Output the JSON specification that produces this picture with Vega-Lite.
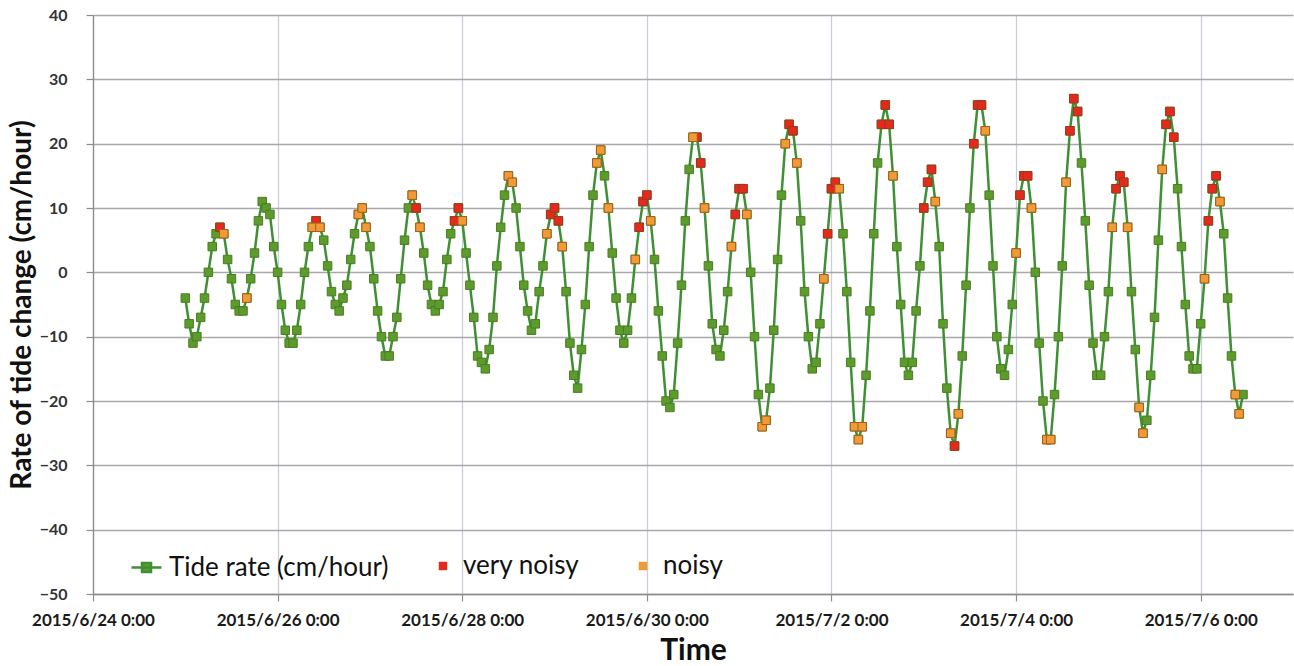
{
  "$schema": "https://vega.github.io/schema/vega-lite/v6.json",
  "width": 1200,
  "height": 579,
  "autosize": {"type": "none"},
  "padding": {"left": 93, "top": 15, "right": 1, "bottom": 72},
  "background": "white",
  "config": {"view": {"stroke": null}, "font": "Lato"},
  "data": {"values": [
    {"t":"2015-06-25T00:00","v":-4},{"t":"2015-06-25T01:00","v":-8},{"t":"2015-06-25T02:00","v":-11},{"t":"2015-06-25T03:00","v":-10},
    {"t":"2015-06-25T04:00","v":-7},{"t":"2015-06-25T05:00","v":-4},{"t":"2015-06-25T06:00","v":0},{"t":"2015-06-25T07:00","v":4},
    {"t":"2015-06-25T08:00","v":6},{"t":"2015-06-25T09:00","v":7,"s":"very noisy"},{"t":"2015-06-25T10:00","v":6,"s":"noisy"},{"t":"2015-06-25T11:00","v":2},
    {"t":"2015-06-25T12:00","v":-1},{"t":"2015-06-25T13:00","v":-5},{"t":"2015-06-25T14:00","v":-6},{"t":"2015-06-25T15:00","v":-6},
    {"t":"2015-06-25T16:00","v":-4,"s":"noisy"},{"t":"2015-06-25T17:00","v":-1},{"t":"2015-06-25T18:00","v":3},{"t":"2015-06-25T19:00","v":8},
    {"t":"2015-06-25T20:00","v":11},{"t":"2015-06-25T21:00","v":10},{"t":"2015-06-25T22:00","v":9},{"t":"2015-06-25T23:00","v":4},

    {"t":"2015-06-26T00:00","v":0},{"t":"2015-06-26T01:00","v":-5},{"t":"2015-06-26T02:00","v":-9},{"t":"2015-06-26T03:00","v":-11},
    {"t":"2015-06-26T04:00","v":-11},{"t":"2015-06-26T05:00","v":-9},{"t":"2015-06-26T06:00","v":-5},{"t":"2015-06-26T07:00","v":0},
    {"t":"2015-06-26T08:00","v":4},{"t":"2015-06-26T09:00","v":7,"s":"noisy"},{"t":"2015-06-26T10:00","v":8,"s":"very noisy"},{"t":"2015-06-26T11:00","v":7,"s":"noisy"},
    {"t":"2015-06-26T12:00","v":5},{"t":"2015-06-26T13:00","v":1},{"t":"2015-06-26T14:00","v":-3},{"t":"2015-06-26T15:00","v":-5},
    {"t":"2015-06-26T16:00","v":-6},{"t":"2015-06-26T17:00","v":-4},{"t":"2015-06-26T18:00","v":-2},{"t":"2015-06-26T19:00","v":2},
    {"t":"2015-06-26T20:00","v":6},{"t":"2015-06-26T21:00","v":9,"s":"noisy"},{"t":"2015-06-26T22:00","v":10,"s":"noisy"},{"t":"2015-06-26T23:00","v":7,"s":"noisy"},

    {"t":"2015-06-27T00:00","v":4},{"t":"2015-06-27T01:00","v":-1},{"t":"2015-06-27T02:00","v":-6},{"t":"2015-06-27T03:00","v":-10},
    {"t":"2015-06-27T04:00","v":-13},{"t":"2015-06-27T05:00","v":-13},{"t":"2015-06-27T06:00","v":-10},{"t":"2015-06-27T07:00","v":-7},
    {"t":"2015-06-27T08:00","v":-1},{"t":"2015-06-27T09:00","v":5},{"t":"2015-06-27T10:00","v":10},{"t":"2015-06-27T11:00","v":12,"s":"noisy"},
    {"t":"2015-06-27T12:00","v":10,"s":"very noisy"},{"t":"2015-06-27T13:00","v":7,"s":"noisy"},{"t":"2015-06-27T14:00","v":3},{"t":"2015-06-27T15:00","v":-2},
    {"t":"2015-06-27T16:00","v":-5},{"t":"2015-06-27T17:00","v":-6},{"t":"2015-06-27T18:00","v":-5},{"t":"2015-06-27T19:00","v":-3},
    {"t":"2015-06-27T20:00","v":2},{"t":"2015-06-27T21:00","v":6},{"t":"2015-06-27T22:00","v":8,"s":"very noisy"},{"t":"2015-06-27T23:00","v":10,"s":"very noisy"},

    {"t":"2015-06-28T00:00","v":8,"s":"noisy"},{"t":"2015-06-28T01:00","v":3},{"t":"2015-06-28T02:00","v":-2},{"t":"2015-06-28T03:00","v":-7},
    {"t":"2015-06-28T04:00","v":-13},{"t":"2015-06-28T05:00","v":-14},{"t":"2015-06-28T06:00","v":-15},{"t":"2015-06-28T07:00","v":-12},
    {"t":"2015-06-28T08:00","v":-7},{"t":"2015-06-28T09:00","v":1},{"t":"2015-06-28T10:00","v":7},{"t":"2015-06-28T11:00","v":12},
    {"t":"2015-06-28T12:00","v":15,"s":"noisy"},{"t":"2015-06-28T13:00","v":14,"s":"noisy"},{"t":"2015-06-28T14:00","v":10},{"t":"2015-06-28T15:00","v":4},
    {"t":"2015-06-28T16:00","v":-2},{"t":"2015-06-28T17:00","v":-6},{"t":"2015-06-28T18:00","v":-9},{"t":"2015-06-28T19:00","v":-8},
    {"t":"2015-06-28T20:00","v":-3},{"t":"2015-06-28T21:00","v":1},{"t":"2015-06-28T22:00","v":6,"s":"noisy"},{"t":"2015-06-28T23:00","v":9,"s":"very noisy"},

    {"t":"2015-06-29T00:00","v":10,"s":"very noisy"},{"t":"2015-06-29T01:00","v":8,"s":"very noisy"},{"t":"2015-06-29T02:00","v":4,"s":"noisy"},{"t":"2015-06-29T03:00","v":-3},
    {"t":"2015-06-29T04:00","v":-11},{"t":"2015-06-29T05:00","v":-16},{"t":"2015-06-29T06:00","v":-18},{"t":"2015-06-29T07:00","v":-12},
    {"t":"2015-06-29T08:00","v":-5},{"t":"2015-06-29T09:00","v":4},{"t":"2015-06-29T10:00","v":12},{"t":"2015-06-29T11:00","v":17,"s":"noisy"},
    {"t":"2015-06-29T12:00","v":19,"s":"noisy"},{"t":"2015-06-29T13:00","v":15},{"t":"2015-06-29T14:00","v":10,"s":"noisy"},{"t":"2015-06-29T15:00","v":3},
    {"t":"2015-06-29T16:00","v":-4},{"t":"2015-06-29T17:00","v":-9},{"t":"2015-06-29T18:00","v":-11},{"t":"2015-06-29T19:00","v":-9},
    {"t":"2015-06-29T20:00","v":-4},{"t":"2015-06-29T21:00","v":2,"s":"noisy"},{"t":"2015-06-29T22:00","v":7,"s":"very noisy"},{"t":"2015-06-29T23:00","v":11,"s":"very noisy"},

    {"t":"2015-06-30T00:00","v":12,"s":"very noisy"},{"t":"2015-06-30T01:00","v":8,"s":"noisy"},{"t":"2015-06-30T02:00","v":2},{"t":"2015-06-30T03:00","v":-6},
    {"t":"2015-06-30T04:00","v":-13},{"t":"2015-06-30T05:00","v":-20},{"t":"2015-06-30T06:00","v":-21},{"t":"2015-06-30T07:00","v":-19},
    {"t":"2015-06-30T08:00","v":-11},{"t":"2015-06-30T09:00","v":-2},{"t":"2015-06-30T10:00","v":8},{"t":"2015-06-30T11:00","v":16},
    {"t":"2015-06-30T12:00","v":21,"s":"noisy"},{"t":"2015-06-30T13:00","v":21,"s":"very noisy"},{"t":"2015-06-30T14:00","v":17,"s":"very noisy"},{"t":"2015-06-30T15:00","v":10,"s":"noisy"},
    {"t":"2015-06-30T16:00","v":1},{"t":"2015-06-30T17:00","v":-8},{"t":"2015-06-30T18:00","v":-12},{"t":"2015-06-30T19:00","v":-13},
    {"t":"2015-06-30T20:00","v":-9},{"t":"2015-06-30T21:00","v":-3},{"t":"2015-06-30T22:00","v":4,"s":"noisy"},{"t":"2015-06-30T23:00","v":9,"s":"very noisy"},

    {"t":"2015-07-01T00:00","v":13,"s":"very noisy"},{"t":"2015-07-01T01:00","v":13,"s":"very noisy"},{"t":"2015-07-01T02:00","v":9,"s":"noisy"},{"t":"2015-07-01T03:00","v":0},
    {"t":"2015-07-01T04:00","v":-10},{"t":"2015-07-01T05:00","v":-19},{"t":"2015-07-01T06:00","v":-24,"s":"noisy"},{"t":"2015-07-01T07:00","v":-23,"s":"noisy"},
    {"t":"2015-07-01T08:00","v":-18},{"t":"2015-07-01T09:00","v":-9},{"t":"2015-07-01T10:00","v":2},{"t":"2015-07-01T11:00","v":12},
    {"t":"2015-07-01T12:00","v":20,"s":"noisy"},{"t":"2015-07-01T13:00","v":23,"s":"very noisy"},{"t":"2015-07-01T14:00","v":22,"s":"very noisy"},{"t":"2015-07-01T15:00","v":17,"s":"noisy"},
    {"t":"2015-07-01T16:00","v":8},{"t":"2015-07-01T17:00","v":-3},{"t":"2015-07-01T18:00","v":-10},{"t":"2015-07-01T19:00","v":-15},
    {"t":"2015-07-01T20:00","v":-14},{"t":"2015-07-01T21:00","v":-8},{"t":"2015-07-01T22:00","v":-1,"s":"noisy"},{"t":"2015-07-01T23:00","v":6,"s":"very noisy"},

    {"t":"2015-07-02T00:00","v":13,"s":"very noisy"},{"t":"2015-07-02T01:00","v":14,"s":"very noisy"},{"t":"2015-07-02T02:00","v":13,"s":"noisy"},{"t":"2015-07-02T03:00","v":6},
    {"t":"2015-07-02T04:00","v":-3},{"t":"2015-07-02T05:00","v":-14},{"t":"2015-07-02T06:00","v":-24,"s":"noisy"},{"t":"2015-07-02T07:00","v":-26,"s":"noisy"},
    {"t":"2015-07-02T08:00","v":-24,"s":"noisy"},{"t":"2015-07-02T09:00","v":-16},{"t":"2015-07-02T10:00","v":-6},{"t":"2015-07-02T11:00","v":6},
    {"t":"2015-07-02T12:00","v":17},{"t":"2015-07-02T13:00","v":23,"s":"very noisy"},{"t":"2015-07-02T14:00","v":26,"s":"very noisy"},{"t":"2015-07-02T15:00","v":23,"s":"very noisy"},
    {"t":"2015-07-02T16:00","v":15,"s":"noisy"},{"t":"2015-07-02T17:00","v":4},{"t":"2015-07-02T18:00","v":-5},{"t":"2015-07-02T19:00","v":-14},
    {"t":"2015-07-02T20:00","v":-16},{"t":"2015-07-02T21:00","v":-14},{"t":"2015-07-02T22:00","v":-6},{"t":"2015-07-02T23:00","v":1},

    {"t":"2015-07-03T00:00","v":10,"s":"very noisy"},{"t":"2015-07-03T01:00","v":14,"s":"very noisy"},{"t":"2015-07-03T02:00","v":16,"s":"very noisy"},{"t":"2015-07-03T03:00","v":11,"s":"noisy"},
    {"t":"2015-07-03T04:00","v":4},{"t":"2015-07-03T05:00","v":-8},{"t":"2015-07-03T06:00","v":-18},{"t":"2015-07-03T07:00","v":-25,"s":"noisy"},
    {"t":"2015-07-03T08:00","v":-27,"s":"very noisy"},{"t":"2015-07-03T09:00","v":-22,"s":"noisy"},{"t":"2015-07-03T10:00","v":-13},{"t":"2015-07-03T11:00","v":-2},
    {"t":"2015-07-03T12:00","v":10},{"t":"2015-07-03T13:00","v":20,"s":"very noisy"},{"t":"2015-07-03T14:00","v":26,"s":"very noisy"},{"t":"2015-07-03T15:00","v":26,"s":"very noisy"},
    {"t":"2015-07-03T16:00","v":22,"s":"noisy"},{"t":"2015-07-03T17:00","v":12},{"t":"2015-07-03T18:00","v":1},{"t":"2015-07-03T19:00","v":-10},
    {"t":"2015-07-03T20:00","v":-15},{"t":"2015-07-03T21:00","v":-16},{"t":"2015-07-03T22:00","v":-12},{"t":"2015-07-03T23:00","v":-5},

    {"t":"2015-07-04T00:00","v":3,"s":"noisy"},{"t":"2015-07-04T01:00","v":12,"s":"very noisy"},{"t":"2015-07-04T02:00","v":15,"s":"very noisy"},{"t":"2015-07-04T03:00","v":15,"s":"very noisy"},
    {"t":"2015-07-04T04:00","v":10,"s":"noisy"},{"t":"2015-07-04T05:00","v":0},{"t":"2015-07-04T06:00","v":-11},{"t":"2015-07-04T07:00","v":-20},
    {"t":"2015-07-04T08:00","v":-26,"s":"noisy"},{"t":"2015-07-04T09:00","v":-26,"s":"noisy"},{"t":"2015-07-04T10:00","v":-19},{"t":"2015-07-04T11:00","v":-10},
    {"t":"2015-07-04T12:00","v":1},{"t":"2015-07-04T13:00","v":14,"s":"noisy"},{"t":"2015-07-04T14:00","v":22,"s":"very noisy"},{"t":"2015-07-04T15:00","v":27,"s":"very noisy"},
    {"t":"2015-07-04T16:00","v":25,"s":"very noisy"},{"t":"2015-07-04T17:00","v":17},{"t":"2015-07-04T18:00","v":8},{"t":"2015-07-04T19:00","v":-2},
    {"t":"2015-07-04T20:00","v":-11},{"t":"2015-07-04T21:00","v":-16},{"t":"2015-07-04T22:00","v":-16},{"t":"2015-07-04T23:00","v":-10},

    {"t":"2015-07-05T00:00","v":-3},{"t":"2015-07-05T01:00","v":7,"s":"noisy"},{"t":"2015-07-05T02:00","v":13,"s":"very noisy"},{"t":"2015-07-05T03:00","v":15,"s":"very noisy"},
    {"t":"2015-07-05T04:00","v":14,"s":"very noisy"},{"t":"2015-07-05T05:00","v":7,"s":"noisy"},{"t":"2015-07-05T06:00","v":-3},{"t":"2015-07-05T07:00","v":-12},
    {"t":"2015-07-05T08:00","v":-21,"s":"noisy"},{"t":"2015-07-05T09:00","v":-25,"s":"noisy"},{"t":"2015-07-05T10:00","v":-23},{"t":"2015-07-05T11:00","v":-16},
    {"t":"2015-07-05T12:00","v":-7},{"t":"2015-07-05T13:00","v":5},{"t":"2015-07-05T14:00","v":16,"s":"noisy"},{"t":"2015-07-05T15:00","v":23,"s":"very noisy"},
    {"t":"2015-07-05T16:00","v":25,"s":"very noisy"},{"t":"2015-07-05T17:00","v":21,"s":"very noisy"},{"t":"2015-07-05T18:00","v":13},{"t":"2015-07-05T19:00","v":4},
    {"t":"2015-07-05T20:00","v":-5},{"t":"2015-07-05T21:00","v":-13},{"t":"2015-07-05T22:00","v":-15},{"t":"2015-07-05T23:00","v":-15},

    {"t":"2015-07-06T00:00","v":-8},{"t":"2015-07-06T01:00","v":-1,"s":"noisy"},{"t":"2015-07-06T02:00","v":8,"s":"very noisy"},{"t":"2015-07-06T03:00","v":13,"s":"very noisy"},
    {"t":"2015-07-06T04:00","v":15,"s":"very noisy"},{"t":"2015-07-06T05:00","v":11,"s":"noisy"},{"t":"2015-07-06T06:00","v":6},{"t":"2015-07-06T07:00","v":-4},
    {"t":"2015-07-06T08:00","v":-13},{"t":"2015-07-06T09:00","v":-19,"s":"noisy"},{"t":"2015-07-06T10:00","v":-22,"s":"noisy"},{"t":"2015-07-06T11:00","v":-19}
  ]},
  "encoding": {
    "x": {
      "field": "t", "type": "temporal", "title": "Time",
      "scale": {"domain": [{"year": 2015, "month": 6, "date": 24}, {"year": 2015, "month": 7, "date": 7}]},
      "axis": {
        "values": [
          {"year": 2015, "month": 6, "date": 24}, {"year": 2015, "month": 6, "date": 26},
          {"year": 2015, "month": 6, "date": 28}, {"year": 2015, "month": 6, "date": 30},
          {"year": 2015, "month": 7, "date": 2}, {"year": 2015, "month": 7, "date": 4},
          {"year": 2015, "month": 7, "date": 6}
        ],
        "format": "%Y/%-m/%-d %-H:%M",
        "labelFont": "Lato", "labelFontWeight": "bold", "labelFontSize": 17, "labelColor": "#1a1a1a",
        "labelPadding": 11, "labelFlush": false, "labelOverlap": false,
        "tickSize": 7, "tickColor": "#8c8c8c", "tickWidth": 1.2,
        "domainColor": "#8c8c8c", "domainWidth": 1.3,
        "grid": true, "gridColor": "#cbced8", "gridWidth": 1.3,
        "titleFont": "Lato", "titleFontSize": 30, "titleFontWeight": "bold", "titleColor": "#111111", "titlePadding": 7
      }
    },
    "y": {
      "field": "v", "type": "quantitative", "title": "Rate of tide change  (cm/hour)",
      "scale": {"domain": [-50, 40], "nice": false, "zero": false},
      "axis": {
        "values": [-50, -40, -30, -20, -10, 0, 10, 20, 30, 40],
        "labelFont": "Lato", "labelFontWeight": "bold", "labelFontSize": 16, "labelColor": "#333333",
        "labelPadding": 19, "tickSize": 7, "tickColor": "#8c8c8c", "tickWidth": 1.2,
        "domainColor": "#8c8c8c", "domainWidth": 1.3,
        "grid": true, "gridColor": "#a8a8a8", "gridWidth": 1.3,
        "titleFont": "Lato", "titleFontSize": 28, "titleFontWeight": "bold", "titleColor": "#111111", "titlePadding": 3
      }
    }
  },
  "layer": [
    {
      "mark": {"type": "line", "strokeWidth": 2.5},
      "encoding": {
        "stroke": {
          "datum": "Tide rate (cm/hour)", "type": "nominal",
          "scale": {"domain": ["Tide rate (cm/hour)"], "range": ["#3f8f34"]},
          "legend": {
            "title": null, "orient": "none", "legendX": 37, "legendY": 536, "direction": "horizontal",
            "padding": 0, "labelOffset": 6, "labelLimit": 400,
            "labelFont": "Lato", "labelFontSize": 26, "labelColor": "#111111",
            "symbolSize": 900, "symbolType": "M-1,0H1M-0.3,-0.3H0.3V0.3H-0.3Z",
            "symbolFillColor": "#5d9b2c", "symbolStrokeWidth": 2.5, "symbolOpacity": 1
          }
        }
      }
    },
    {
      "mark": {"type": "point", "shape": "square", "filled": true, "size": 72, "fill": "#5d9b2c", "stroke": "#4a7d22", "strokeWidth": 1, "opacity": 1}
    },
    {
      "transform": [{"filter": "datum.s === 'very noisy'"}],
      "mark": {"type": "point", "shape": "square", "filled": true, "size": 72, "stroke": "#9a3a1c", "strokeWidth": 1, "opacity": 1},
      "encoding": {
        "color": {
          "field": "s", "type": "nominal",
          "scale": {"domain": ["very noisy", "noisy"], "range": ["#e42a1d", "#f29a35"]},
          "legend": {
            "title": null, "orient": "none", "legendX": 337, "legendY": 538, "direction": "horizontal",
            "padding": 0, "columnPadding": 50, "labelOffset": 7, "labelLimit": 400,
            "labelFont": "Lato", "labelFontSize": 26, "labelColor": "#111111",
            "symbolSize": 72, "symbolType": "square", "symbolStrokeWidth": 0, "symbolOpacity": 1
          }
        }
      }
    },
    {
      "transform": [{"filter": "datum.s === 'noisy'"}],
      "mark": {"type": "point", "shape": "square", "filled": true, "size": 72, "stroke": "#a0601e", "strokeWidth": 1, "opacity": 1},
      "encoding": {"color": {"field": "s", "type": "nominal"}}
    }
  ]
}
